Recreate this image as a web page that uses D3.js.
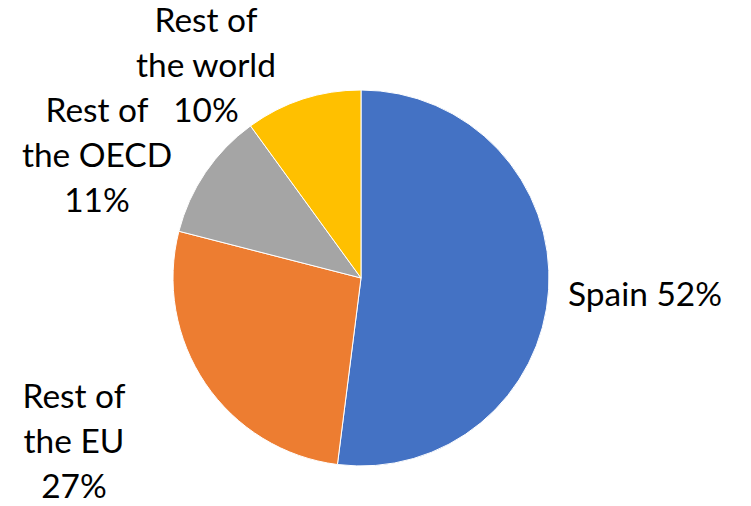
<!DOCTYPE html>
<html><head><meta charset="utf-8">
<script src="https://cdn.jsdelivr.net/npm/d3@7"></script>
<style>html,body{margin:0;padding:0;background:#fff;}</style>
</head><body>
<svg id="c" width="751" height="506"></svg>
<script>
const categories = ["Spain", "Rest of the EU", "Rest of the OECD", "Rest of the world"];
const values = [52, 27, 11, 10];
const colors = ["#4472C4", "#ED7D31", "#A5A5A5", "#FFC000"];
const labelLines = [["Spain 52%"], ["Rest of", "the EU", "27%"], ["Rest of", "the OECD", "11%"], ["Rest of", "the world", "10%"]];

const svg = d3.select("#c");
const cx = 361, cy = 278, r = 188;
const pie = d3.pie().sort(null).value(d => d)(values);
const arc = d3.arc().innerRadius(0).outerRadius(r);
const g = svg.append("g").attr("transform", `translate(${cx},${cy})`);
g.selectAll("path").data(pie).join("path")
  .attr("d", arc).attr("fill", (d, i) => colors[i])
  .attr("stroke", "#fff").attr("stroke-width", 1);

const font = "Lato, 'Open Sans', sans-serif";
// calibrate font size so "Spain 52%" width ≈ 154px
const t = svg.append("text").attr("font-family", font).attr("font-size", 28).text("Spain 52%");
const w = t.node().getComputedTextLength();
t.remove();
const fs = 28 * 154 / w;

// label anchors: [x, first baseline, anchor]
const anchors = [[568, 306, "start"], [74, 408, "middle"], [97, 122, "middle"], [206, 32, "middle"]];
const lh = 45;
labelLines.forEach((lines, i) => {
  const [x, y, a] = anchors[i];
  const txt = svg.append("text").attr("font-family", font).attr("font-size", fs)
    .attr("fill", "#000").attr("text-anchor", a);
  lines.forEach((l, j) => txt.append("tspan").attr("x", x).attr("y", y + j * lh).text(l));
});
</script>
</body></html>
